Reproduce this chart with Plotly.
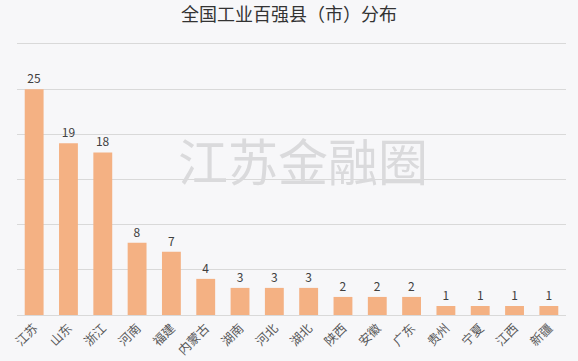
import plotly.graph_objects as go

provinces = ["江苏", "山东", "浙江", "河南", "福建", "内蒙古", "湖南", "河北",
             "湖北", "陕西", "安徽", "广东", "贵州", "宁夏", "江西", "新疆"]
counts = [25, 19, 18, 8, 7, 4, 3, 3, 3, 2, 2, 2, 1, 1, 1, 1]
title_text = "全国工业百强县（市）分布"
watermark = "江苏金融圈"

font_cjk = "Noto Sans CJK SC, Noto Sans, sans-serif"
bg = "#F7F7F9"

fig = go.Figure(go.Bar(
    x=provinces, y=counts,
    marker=dict(color="#F4B183", line=dict(width=0)),
    text=counts, textposition="outside", cliponaxis=False,
    textfont=dict(size=12, color="#404040", family=font_cjk),
))

fig.update_layout(
    width=578, height=361,
    margin=dict(l=17, r=12, t=44, b=46),
    paper_bgcolor=bg, plot_bgcolor=bg,
    bargap=0.45,
    showlegend=False,
    title=dict(text=title_text, x=0.5, xanchor="center", y=0.958, yanchor="middle",
               font=dict(size=18, color="#333333", family=font_cjk)),
    xaxis=dict(tickangle=-45, tickfont=dict(size=12.5, color="#595959", family=font_cjk),
               showgrid=False, showline=True, mirror=True, linecolor="#D9D9D9", ticks="",
               automargin=False),
    yaxis=dict(range=[0, 30], dtick=5, showticklabels=False, showgrid=True,
               gridcolor="#D9D9D9", gridwidth=1, zeroline=False, ticks="",
               automargin=False),
    annotations=[dict(text=watermark, xref="paper", yref="paper", x=0.521, y=0.577,
                      xanchor="center", yanchor="middle", showarrow=False,
                      font=dict(size=50, color="#DADADC", family=font_cjk))],
)

fig.write_html("out.html", config={"displayModeBar": False},
               post_script="document.body.style.margin='0';document.body.style.background='%s';" % bg)
